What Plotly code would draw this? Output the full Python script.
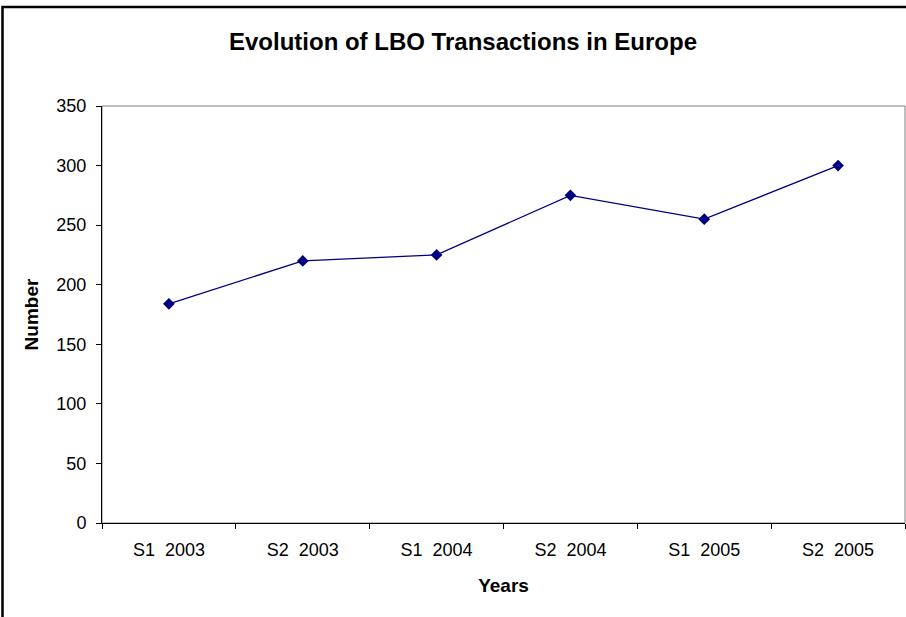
import plotly.graph_objects as go

categories = ["S1  2003", "S2  2003", "S1  2004", "S2  2004", "S1  2005", "S2  2005"]
values = [184, 220, 225, 275, 255, 300]
y_ticks = [0, 50, 100, 150, 200, 250, 300, 350]

W, H = 906, 617
L, R, T, B = 102, 1, 106, 94
pw, ph = W - L - R, H - T - B

def px_x(x):
    return (x - L) / pw

def px_y(y):
    return (H - B - y) / ph

fig = go.Figure()
fig.add_trace(go.Scatter(
    x=categories, y=values, mode="lines+markers",
    line=dict(color="#000080", width=1.3),
    marker=dict(symbol="diamond", size=9, color="#000080"),
    showlegend=False, cliponaxis=False,
))

fig.update_layout(
    width=W, height=H,
    margin=dict(l=L, r=R, t=T, b=B, pad=0),
    paper_bgcolor="white", plot_bgcolor="white",
    font=dict(family="Liberation Sans, Arial, sans-serif", size=18, color="black"),
    title=dict(text="<b>Evolution of LBO Transactions in Europe</b>",
               x=463 / W, xanchor="center", y=1 - 42/H, yanchor="middle",
               font=dict(size=24, color="black")),
    xaxis=dict(
        type="category", range=[-0.5, 5.5],
        showline=True, linecolor="black", linewidth=1,
        ticks="outside", ticklen=5, tickcolor="black", tickwidth=1,
        tickson="boundaries", showgrid=False, zeroline=False,
        tickfont=dict(size=18), ticklabelstandoff=10,
        title=dict(text="<b>Years</b>", font=dict(size=19), standoff=20),
    ),
    yaxis=dict(
        range=[0, 350], tickvals=y_ticks,
        showline=True, linecolor="black", linewidth=1,
        ticks="outside", ticklen=5, tickcolor="black", tickwidth=1,
        showgrid=False, zeroline=False,
        tickfont=dict(size=18), ticklabelstandoff=6,
        title=dict(text="<b>Number</b>", font=dict(size=19), standoff=12),
    ),
    shapes=[
        dict(type="rect", xref="paper", yref="paper",
             x0=0, x1=1, y0=0, y1=1,
             line=dict(color="#808080", width=1), layer="below"),
        dict(type="rect", xref="paper", yref="paper",
             x0=px_x(2.5), x1=px_x(930), y0=px_y(640), y1=px_y(7),
             line=dict(color="black", width=2.5), layer="above"),
    ],
)

fig.write_html("out.html", config={"displayModeBar": False},
               post_script="document.body.style.margin='0';document.body.style.overflow='hidden';")
